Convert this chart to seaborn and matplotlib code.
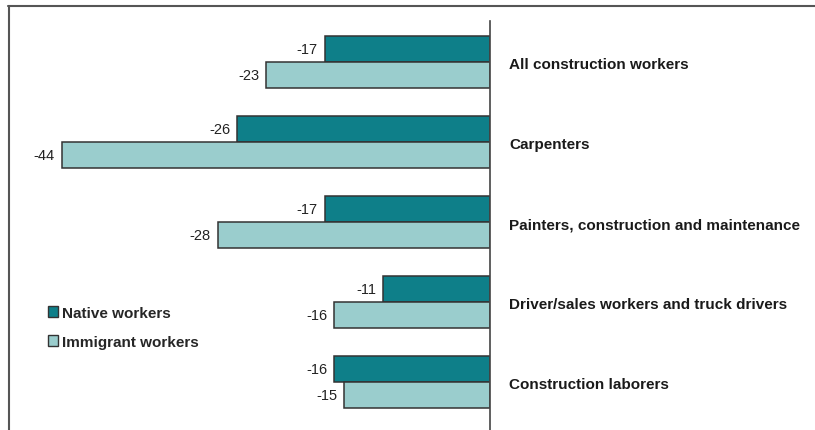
import matplotlib
matplotlib.use("Agg")
import matplotlib.pyplot as plt
import seaborn as sns
import pandas as pd
from matplotlib.patches import Patch
from matplotlib.lines import Line2D

categories = [
    "All construction workers",
    "Carpenters",
    "Painters, construction and maintenance",
    "Driver/sales workers and truck drivers",
    "Construction laborers",
]
native_workers = [-17, -26, -17, -11, -16]
immigrant_workers = [-23, -44, -28, -16, -15]
series_names = ["Native workers", "Immigrant workers"]
colors = ["#0E7F89", "#9ACDCD"]

df = pd.DataFrame({
    "category": categories * 2,
    "value": native_workers + immigrant_workers,
    "group": [series_names[0]] * len(categories) + [series_names[1]] * len(categories),
})

sns.set_theme(style="white")
plt.rcParams["font.family"] = ["Liberation Sans Narrow", "Liberation Sans", "DejaVu Sans"]

W, H = 815, 431
fig = plt.figure(figsize=(W / 100, H / 100), dpi=100)
fig.patch.set_facecolor("white")

# plot area: zero line sits at x=490 px, axes spans y 22..431 px
ax = fig.add_axes([23 / W, 0.0, (490 - 23) / W, 1 - 22 / H])
sns.barplot(
    data=df, x="value", y="category", hue="group", orient="h",
    palette=colors, width=0.65, edgecolor="#333333", linewidth=1.1,
    saturation=1, legend=False, ax=ax,
)

ax.set_xlim(-48, 0)
ax.set_ylim(4.6, -0.5125)
ax.set_xlabel("")
ax.set_ylabel("")
ax.set_xticks([])
ax.set_yticks([])
for side in ["left", "top", "bottom"]:
    ax.spines[side].set_visible(False)
ax.spines["right"].set_visible(True)
ax.spines["right"].set_color("#444444")
ax.spines["right"].set_linewidth(1.2)
ax.set_facecolor("white")

for cont in ax.containers:
    ax.bar_label(cont, fmt="%d", padding=5, fontsize=10.5, color="#222222")

for i, name in enumerate(categories):
    ax.annotate(name, xy=(0, i), xytext=(14, -1.5), textcoords="offset points",
                ha="left", va="center", fontsize=11, fontweight="bold",
                color="#1a1a1a", annotation_clip=False)

handles = [Patch(facecolor=c, edgecolor="#333333", linewidth=1.0) for c in colors]
leg = fig.legend(handles, series_names, loc="upper left",
                 bbox_to_anchor=(34 / W, 1 - 293 / H), frameon=False,
                 handlelength=0.7, handleheight=0.7, handletextpad=0.25,
                 labelspacing=1.0, prop={"weight": "bold", "size": 11})

# frame lines along the top and left edges
fig.add_artist(Line2D([8 / W, 1.0], [1 - 6.5 / H, 1 - 6.5 / H], color="#555555", linewidth=1.5))
fig.add_artist(Line2D([8.5 / W, 8.5 / W], [0, 1 - 6.5 / H], color="#555555", linewidth=1.5))

fig.savefig("out.png", dpi=100, facecolor="white")
